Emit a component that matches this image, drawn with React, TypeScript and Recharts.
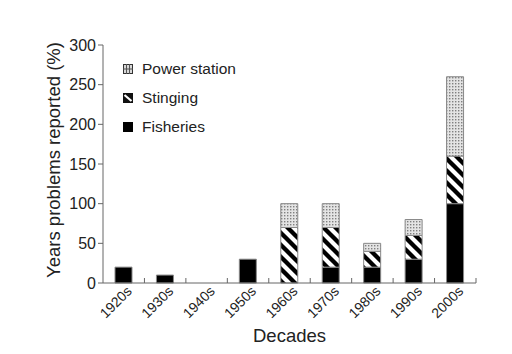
import React from "react";
import { BarChart, Bar, XAxis, YAxis, Label } from "recharts";

const decades = ["1920s", "1930s", "1940s", "1950s", "1960s", "1970s", "1980s", "1990s", "2000s"];
const fisheries = [20, 10, 0, 30, 0, 20, 20, 30, 100];
const stinging = [0, 0, 0, 0, 70, 50, 20, 30, 60];
const powerStation = [0, 0, 0, 0, 30, 30, 10, 20, 100];
const yTicks = [0, 50, 100, 150, 200, 250, 300];

const data = decades.map((d, i) => ({
  decade: d,
  fisheries: fisheries[i],
  stinging: stinging[i],
  power: powerStation[i],
}));

const W = 504;
const H = 346;
const X_H = 30;
const MARGIN = { top: 37, right: 36, bottom: 71 - X_H, left: 0 };
const Y_W = 95;
const PLOT_W = W - MARGIN.right - MARGIN.left - Y_W;
const HALF_BAND = PLOT_W / decades.length / 2;
const FONT = "'Liberation Sans', Arial, Helvetica, sans-serif";
const TEXT = "#222";
const AXIS = "#666";

const XTick = (props: any) => {
  const { x, y, payload } = props;
  return (
    <g>
      <line x1={x + HALF_BAND} x2={x + HALF_BAND} y1={y} y2={y - 5} stroke={AXIS} strokeWidth={1} />
      <text
        transform={`translate(${x + 9},${y + 9}) rotate(-45)`}
        textAnchor="end"
        fontSize={14}
        fontFamily={FONT}
        fill={TEXT}
      >
        {payload.value}
      </text>
    </g>
  );
};

const legendItems = [
  { key: "power", label: "Power station" },
  { key: "stinging", label: "Stinging" },
  { key: "fisheries", label: "Fisheries" },
];

const LegendIcon = ({ k }: { k: string }) => {
  if (k === "power")
    return (
      <svg width={10} height={10}>
        <rect x={0.5} y={0.5} width={9} height={9} fill="#d8d8d8" stroke="#333" />
        <line x1={3.5} y1={0} x2={3.5} y2={10} stroke="#555" />
        <line x1={6.5} y1={0} x2={6.5} y2={10} stroke="#555" />
        <line x1={0} y1={5} x2={10} y2={5} stroke="#555" />
      </svg>
    );
  if (k === "stinging")
    return (
      <svg width={10} height={10}>
        <rect x={0} y={0} width={10} height={10} fill="#111" />
        <line x1={1.5} y1={2} x2={8.5} y2={8} stroke="#fff" strokeWidth={2.2} />
      </svg>
    );
  return (
    <svg width={10} height={10}>
      <rect x={0} y={0} width={10} height={10} fill="#000" />
    </svg>
  );
};

export default function App() {
  return (
    <div style={{ position: "relative", width: W, height: H }}>
      <svg width={0} height={0} style={{ position: "absolute" }}>
        <defs>
          <pattern id="stripes" patternUnits="userSpaceOnUse" width={12} height={12}>
            <rect width={12} height={12} fill="#fff" />
            <path d="M-6,6 L6,18 M0,0 L12,12 M6,-6 L18,6" stroke="#000" strokeWidth={4.3} />
          </pattern>
          <pattern id="dots" patternUnits="userSpaceOnUse" width={3} height={3}>
            <rect width={3} height={3} fill="#e4e4e4" />
            <rect x={0} y={0} width={1.4} height={1.4} fill="#808080" />
          </pattern>
        </defs>
      </svg>
      <BarChart width={W} height={H} data={data} margin={MARGIN} barSize={17}>
        <XAxis
          dataKey="decade"
          height={X_H}
          tickLine={false}
          tickSize={0}
          tickMargin={0}
          interval={0}
          stroke={AXIS}
          tick={<XTick />}
        >
          <Label
            content={(p: any) => {
              const vb = p.viewBox;
              return (
                <text
                  x={vb.x + vb.width / 2}
                  y={327}
                  textAnchor="middle"
                  dominantBaseline="central"
                  fontSize={18.5}
                  fontFamily={FONT}
                  fill={TEXT}
                >
                  Decades
                </text>
              );
            }}
          />
        </XAxis>
        <YAxis
          width={Y_W}
          domain={[0, 300]}
          ticks={yTicks}
          interval={0}
          tickSize={5}
          tickMargin={2}
          stroke={AXIS}
          tick={{ fontSize: 16, fontFamily: FONT, fill: TEXT }}
        >
          <Label
            content={() => (
              <text
                transform={`translate(45,152) rotate(-90)`}
                textAnchor="middle"
                dominantBaseline="central"
                fontSize={18.5}
                fontFamily={FONT}
                fill={TEXT}
              >
                Years problems reported (%)
              </text>
            )}
          />
        </YAxis>
        <Bar dataKey="fisheries" stackId="a" fill="#000" stroke="#888" strokeWidth={1} isAnimationActive={false} />
        <Bar dataKey="stinging" stackId="a" fill="url(#stripes)" stroke="#888" strokeWidth={1} isAnimationActive={false} />
        <Bar dataKey="power" stackId="a" fill="url(#dots)" stroke="#888" strokeWidth={1} isAnimationActive={false} />
      </BarChart>
      <div
        style={{
          position: "absolute",
          left: 115,
          top: 46,
          fontFamily: FONT,
          fontSize: 15.5,
          color: TEXT,
          lineHeight: "29px",
        }}
      >
        {legendItems.map((it) => (
          <div key={it.key} style={{ display: "flex", alignItems: "center", height: 29 }}>
            <LegendIcon k={it.key} />
            <span style={{ marginLeft: 9 }}>{it.label}</span>
          </div>
        ))}
      </div>
    </div>
  );
}
